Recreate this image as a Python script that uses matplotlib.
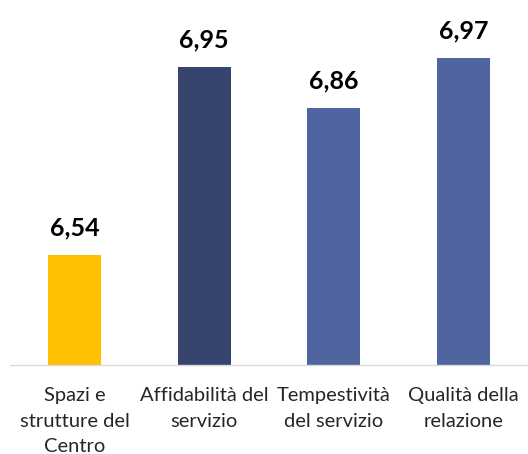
import matplotlib.pyplot as plt

# categorie e punteggi medi
categorie = ['Spazi e\nstrutture del\nCentro', 'Affidabilità del\nservizio',
             'Tempestività\ndel servizio', 'Qualità della\nrelazione']
valori = [6.54, 6.95, 6.86, 6.97]
colori = ['#FFC000', '#37456E', '#5065A0', '#5065A0']

plt.rcParams['font.family'] = ['Lato', 'DejaVu Sans']

fig = plt.figure(figsize=(5.28, 4.54), dpi=100)
ax = fig.add_axes([10 / 528, 89 / 454, 518 / 528, 367 / 454])

x = range(len(categorie))
ax.bar(x, valori, width=0.41, color=colori, zorder=2)

# etichette con virgola decimale
for xi, v in zip(x, valori):
    ax.annotate(f'{v:.2f}'.replace('.', ','), (xi, v), xytext=(0, 14),
                textcoords='offset points', ha='center', va='baseline',
                fontsize=18, fontweight='bold', color='black')

ax.set_xlim(-0.5, 3.5)
ax.set_ylim(6.3, 7.1)
ax.set_xticks(list(x))
ax.set_xticklabels(categorie, fontsize=14.5, color='#262626', linespacing=1.6)
ax.tick_params(axis='x', length=0, pad=16)
ax.set_yticks([])
for s in ['top', 'right', 'left']:
    ax.spines[s].set_visible(False)
ax.spines['bottom'].set_color('#D9D9D9')
ax.spines['bottom'].set_linewidth(1)

fig.savefig('out.png', dpi=100)
